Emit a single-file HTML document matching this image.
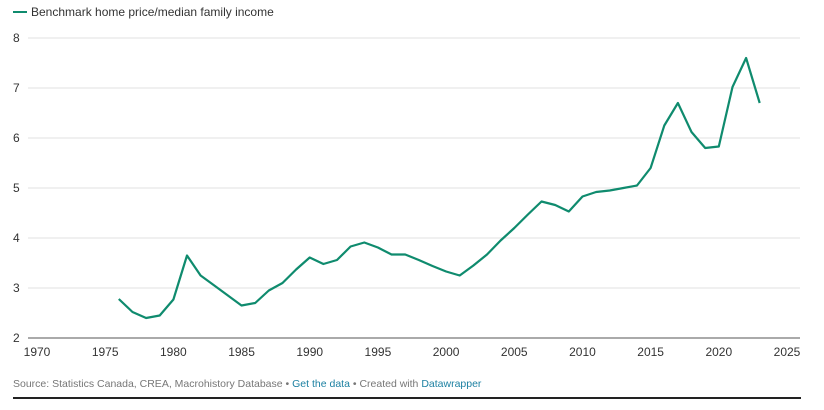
<!DOCTYPE html>
<html><head><meta charset="utf-8"><style>
body{margin:0;background:#fff;font-family:"Liberation Sans",sans-serif;}
#wrap{position:relative;width:824px;height:410px;overflow:hidden}
.t{font-size:12px;fill:#333}
</style></head><body>
<div id="wrap">
<svg id="svg" width="824" height="410">
<g>
<line x1="13" y1="12" x2="27" y2="12" stroke="#0f8b6e" stroke-width="2"/>
<text x="31" y="16" style="font-size:12px;fill:#333">Benchmark home price/median family income</text>
</g>
<g id="grid"></g>
<g id="xt"></g>
<path id="line" fill="none" stroke="#0f8b6e" stroke-width="2.2" stroke-linejoin="round"/>
<text x="13" y="387" style="font-size:10.5px;fill:#777">Source: Statistics Canada, CREA, Macrohistory Database • <tspan fill="#1d81a2">Get the data</tspan> • Created with <tspan fill="#1d81a2">Datawrapper</tspan></text>
<rect x="13" y="397" width="788" height="2" fill="#222"/>
</svg>
</div>
<script>
const years=[1976,1977,1978,1979,1980,1981,1982,1983,1984,1985,1986,1987,1988,1989,1990,1991,1992,1993,1994,1995,1996,1997,1998,1999,2000,2001,2002,2003,2004,2005,2006,2007,2008,2009,2010,2011,2012,2013,2014,2015,2016,2017,2018,2019,2020,2021,2022,2023];
const ratio=[2.78,2.52,2.40,2.45,2.77,3.65,3.25,3.05,2.85,2.65,2.70,2.95,3.10,3.37,3.61,3.48,3.56,3.83,3.91,3.81,3.67,3.67,3.56,3.44,3.33,3.25,3.45,3.67,3.95,4.20,4.47,4.73,4.66,4.53,4.83,4.92,4.95,5.00,5.05,5.40,6.25,6.70,6.12,5.80,5.83,7.02,7.60,6.70];
const yTicks=[2,3,4,5,6,7,8];
const xTicks=[1970,1975,1980,1985,1990,1995,2000,2005,2010,2015,2020,2025];
const X=v=>37+(v-1970)*750/55;
const Y=v=>38+(8-v)*50;
const NS="http://www.w3.org/2000/svg";
const grid=document.getElementById('grid'),xt=document.getElementById('xt');
yTicks.forEach(v=>{
 const l=document.createElementNS(NS,'line');
 l.setAttribute('x1',28);l.setAttribute('x2',800);l.setAttribute('y1',Y(v));l.setAttribute('y2',Y(v));
 l.setAttribute('stroke',v===2?'#555':'#e2e2e2');l.setAttribute('stroke-width',1);
 
 
 grid.appendChild(l);
 const t=document.createElementNS(NS,'text');
 t.setAttribute('x',13);t.setAttribute('y',Y(v)+4);t.setAttribute('class','t');
 t.textContent=v;
 
 
 grid.appendChild(t);
});
xTicks.forEach(v=>{
 const t=document.createElementNS(NS,'text');
 t.setAttribute('x',X(v));t.setAttribute('y',356);t.setAttribute('text-anchor','middle');t.setAttribute('class','t');
 t.textContent=v;
 
 
 xt.appendChild(t);
});
document.getElementById('line').setAttribute('d',years.map((y,i)=>(i?'L':'M')+X(y).toFixed(1)+','+Y(ratio[i]).toFixed(1)).join(''));
</script>
</body></html>
